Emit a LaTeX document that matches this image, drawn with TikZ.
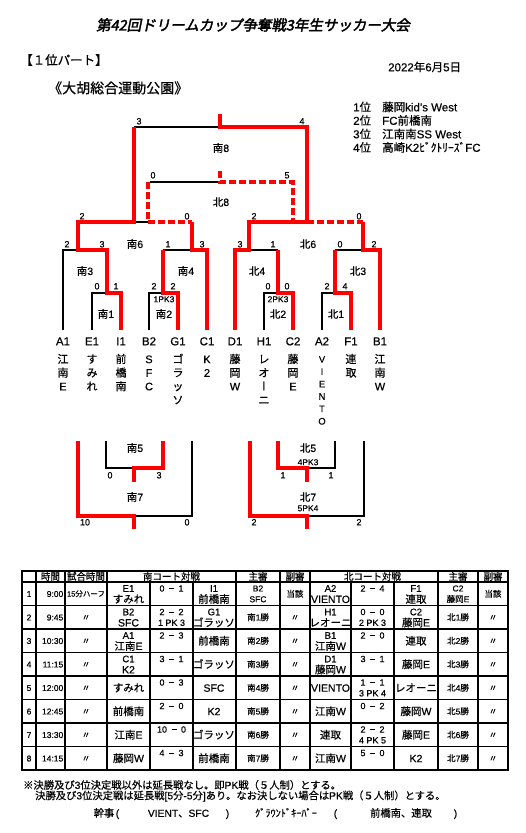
\documentclass[tikz,border=0pt]{standalone}
\usepackage{fontspec}
\setmainfont{Liberation Sans}[FakeBold=0.4]
\newfontfamily\cjkfont[FakeBold=0.5]{Noto Sans CJK JP}
\newfontfamily\vertfont[RawFeature=+vert,FakeBold=0.5]{Noto Sans CJK JP}
\newfontfamily\titlefont[FakeBold=2.5,FakeSlant=0.2]{Noto Sans CJK JP}
\XeTeXinterchartokenstate=1
\newXeTeXintercharclass\CJKcls
\newcount\cjkcnt
\cjkcnt="0021
\loop \XeTeXcharclass\cjkcnt=0 \advance\cjkcnt by 1 \ifnum\cjkcnt<"3000 \repeat
\cjkcnt="3000
\loop \XeTeXcharclass\cjkcnt=\CJKcls \advance\cjkcnt by 1 \ifnum\cjkcnt<"A000 \repeat
\cjkcnt="FF00
\loop \XeTeXcharclass\cjkcnt=\CJKcls \advance\cjkcnt by 1 \ifnum\cjkcnt<"FFF0 \repeat
\XeTeXcharclass"203B=\CJKcls
\XeTeXinterchartoks 0 \CJKcls = {\begingroup\cjkfont}
\XeTeXinterchartoks 4095 \CJKcls = {\begingroup\cjkfont}
\XeTeXinterchartoks \CJKcls 0 = {\endgroup}
\XeTeXinterchartoks \CJKcls 4095 = {\endgroup}

\newcommand\sco[2]{#1\hspace{4.5pt}\rule[2.7pt]{5pt}{0.8pt}\hspace{4.5pt}#2}
\newcommand\vname[5]{\foreach \vc [count=\i] in {#4} {\node[#5] (v#1\i) at (#2,{359+#3*(\i-1)}) {\vc};}}
\newcommand\tcl[5]{\node[tsm] (#1a) at (#2,#3+6.2) {#4}; \node[tnm] (#1b) at (#2,#3+17) {#5};}
\newcommand\tcj[5]{\node[tjs] (#1a) at (#2,#3+6.2) {#4}; \node[tjs] (#1b) at (#2,#3+17) {#5};}
\newcommand\tone[4]{\node[tnm] (#1) at (#2,#3+11.75) {#4};}
\newcommand\tj[4]{\node[tjs] (#1) at (#2,#3+11.75) {#4};}
\newcommand\tsr[4]{\node[tsc] (#1) at (#2,#3+6.2) {#4};}
\newcommand\tpk[4]{\node[tsc] (#1) at (#2,#3+17) {#4};}
\newcommand\rowbase[3]{\node[ttm] (no#1) at (29,#2+11.75) {#1};
  \node[ttm,anchor=east] (tm#1) at (63.5,#2+11.75) {#3};
  \node[tjs] (sb#1) at (295,#2+11.75) {〃};
  \node[tjs] (nb#1) at (493,#2+11.75) {〃};}

\begin{document}
\begin{tikzpicture}[x=1pt,y=-1pt,
  rl/.style={draw=red, line width=3.6pt},
  bl/.style={draw=black, line width=1.8pt},
  rd/.style={draw=red, line width=3.2pt, dash pattern=on 7pt off 3pt},
  tl/.style={draw=black, line width=1.8pt},
  tout/.style={draw=black, line width=2.6pt},
  scr/.style={font=\fontsize{9}{10}\selectfont, inner sep=0pt, text height=6.8pt, text depth=0pt},
  lab/.style={font=\fontsize{10.5}{12}\selectfont, inner sep=0pt, text height=7.9pt, text depth=0pt},
  pkl/.style={font=\fontsize{8.5}{10}\selectfont, inner sep=0pt, text height=6.4pt, text depth=0pt},
  tcode/.style={font=\fontsize{11.5}{13}\selectfont, inner sep=0pt, text height=8.6pt, text depth=0pt},
  vch/.style={font=\fontsize{11}{13}\selectfont, inner sep=0pt, text height=8.3pt, text depth=0pt},
  vchs/.style={font=\fontsize{9.5}{11}\selectfont, inner sep=0pt, text height=7.1pt, text depth=0pt},
  tsm/.style={font=\fontsize{9.5}{10}\selectfont, inner sep=0pt, text height=7.1pt, text depth=0pt},
  tnm/.style={font=\fontsize{10.5}{11}\selectfont, inner sep=0pt, text height=7.9pt, text depth=0pt},
  tjs/.style={font=\fontsize{8.5}{9}\selectfont, inner sep=0pt, text height=6.4pt, text depth=0pt},
  tsc/.style={font=\fontsize{9}{10}\selectfont, inner sep=0pt, text height=6.8pt, text depth=0pt},
  ttm/.style={font=\fontsize{8.5}{9}\selectfont, inner sep=0pt, text height=6.4pt, text depth=0pt},
  thd/.style={font=\fontsize{9.5}{10}\selectfont, inner sep=0pt, text height=7.1pt, text depth=0pt},
  rk/.style={font=\fontsize{11.5}{13}\selectfont, inner sep=0pt, text height=8.6pt, text depth=0pt},
  ft/.style={font=\fontsize{10.3}{11}\selectfont, inner sep=0pt, text height=7.7pt, text depth=0pt},
]
\fill[white] (0,0) rectangle (525,833);
\useasboundingbox (0,0) rectangle (525,833);

% ---------- headings ----------
\node[font=\fontsize{14.5}{16}\selectfont, inner sep=0pt, text height=10.9pt, text depth=0pt] (title) at (253,25)
  {\XeTeXinterchartokenstate=0 \titlefont 第42回ドリームカップ争奪戦3年生サッカー大会};
\node[font=\fontsize{12.5}{14}\selectfont, inner sep=0pt, text height=9.4pt, text depth=0pt, anchor=west] (part) at (20,60) {【１位パート】};
\node[rk, anchor=west] (date) at (388,67) {2022年6月5日};
\node[font=\fontsize{14}{16}\selectfont, inner sep=0pt, text height=10.5pt, text depth=0pt, anchor=west] (venue) at (48,88) {《大胡総合運動公園》};
\node[rk, anchor=west] (rk1) at (353,107) {1位};
\node[rk, anchor=west] (rk2) at (353,120.5) {2位};
\node[rk, anchor=west] (rk3) at (353,134) {3位};
\node[rk, anchor=west] (rk4) at (353,147.5) {4位};
\node[rk, anchor=west] (rn1) at (382,107) {藤岡kid's West};
\node[rk, anchor=west] (rn2) at (382,120.5) {FC前橋南};
\node[rk, anchor=west] (rn3) at (382,134) {江南南SS West};
\node[rk, anchor=west] (rn4) at (382,147.5) {高崎K2ﾋﾞｸﾄﾘｰｽﾞFC};

% ---------- upper bracket: black ----------
\draw[bl] (134,127) -- (220,127);
\draw[bl] (150,182) -- (220,182);
\draw[bl] (134,222) -- (148,222);
\draw[bl] (63,330) -- (63,250) -- (78,250);
\draw[bl] (92,330) -- (92,293) -- (107,293);
\draw[bl] (163,250) -- (192,250);
\draw[bl] (149,330) -- (149,293) -- (163,293);
\draw[bl] (249,250) -- (278,250);
\draw[bl] (264,330) -- (264,293) -- (278,293);
\draw[bl] (335,250) -- (363,250);
\draw[bl] (322,330) -- (322,293) -- (335,293);
% ---------- upper bracket: red ----------
\draw[rd] (220,171) -- (220,182) -- (293,182) -- (293,222);
\draw[rd] (148,182) -- (148,222) -- (192,222);
\draw[rd] (307,222) -- (363,222);
\draw[rl] (134,127) -- (134,222) -- (78,222) -- (78,250) -- (107,250) -- (107,293) -- (121,293) -- (121,330);
\draw[rl] (235,330) -- (235,250) -- (249,250) -- (249,222) -- (307,222) -- (307,127) -- (220,127) -- (220,114);
\draw[rl] (192,222) -- (192,250) -- (207,250) -- (207,330);
\draw[rl] (363,222) -- (363,250) -- (380,250) -- (380,330);
\draw[rl] (163,250) -- (163,293) -- (178,293) -- (178,330);
\draw[rl] (278,250) -- (278,293) -- (293,293) -- (293,330);
\draw[rl] (335,250) -- (335,293) -- (351,293) -- (351,330);

% ---------- lower bracket ----------
\draw[bl] (134,516) -- (192,516) -- (192,441);
\draw[bl] (106,441) -- (106,468) -- (134,468);
\draw[bl] (307,516) -- (364,516) -- (364,441);
\draw[bl] (307,468) -- (335,468) -- (335,441);
\draw[rl] (78,441) -- (78,516) -- (134,516) -- (134,529);
\draw[rl] (163,441) -- (163,468) -- (134,468) -- (134,482);
\draw[rl] (250,441) -- (250,516) -- (307,516) -- (307,529);
\draw[rl] (278,441) -- (278,468) -- (307,468) -- (307,482);

% ---------- bracket scores ----------
\node[scr] (s8a) at (139,121) {3};   \node[scr] (s8b) at (302,121) {4};
\node[scr] (n8a) at (153,175) {0};   \node[scr] (n8b) at (287,175) {5};
\node[scr] (s6a) at (82,216) {2};    \node[scr] (s6b) at (187,216) {0};
\node[scr] (n6a) at (254,216) {2};   \node[scr] (n6b) at (359,216) {0};
\node[scr] (s3a) at (67,244) {2};    \node[scr] (s3b) at (102,244) {3};
\node[scr] (s4a) at (168,244) {1};   \node[scr] (s4b) at (202,244) {3};
\node[scr] (n4a) at (240,244) {3};   \node[scr] (n4b) at (273,244) {1};
\node[scr] (n3a) at (340,244) {0};   \node[scr] (n3b) at (374,244) {2};
\node[scr] (s1a) at (97,286) {0};    \node[scr] (s1b) at (116,286) {1};
\node[scr] (s2a) at (154,286) {2};   \node[scr] (s2b) at (173,286) {2};
\node[scr] (n2a) at (268,286) {0};   \node[scr] (n2b) at (287,286) {0};
\node[scr] (n1a) at (327,286) {2};   \node[scr] (n1b) at (345,286) {4};
\node[scr] (s5a) at (110,475) {0};   \node[scr] (s5b) at (159,475) {3};
\node[scr] (s7a) at (85,522) {10};   \node[scr] (s7b) at (187,522) {0};
\node[scr] (n5a) at (283,475) {1};   \node[scr] (n5b) at (331,475) {1};
\node[scr] (n7a) at (254,522) {2};   \node[scr] (n7b) at (359,522) {2};

% ---------- bracket labels ----------
\node[lab] (L s8) at (221,148) {南8};
\node[lab] (L n8) at (221,202) {北8};
\node[lab] (L s6) at (135,244) {南6};
\node[lab] (L n6) at (308,244) {北6};
\node[lab] (L s3) at (85,271) {南3};
\node[lab] (L s4) at (186,271) {南4};
\node[lab] (L n4) at (257,271) {北4};
\node[lab] (L n3) at (358,271) {北3};
\node[lab] (L s1) at (106,314) {南1};
\node[lab] (L s2) at (164,314) {南2};
\node[lab] (L n2) at (278,314) {北2};
\node[lab] (L n1) at (336,314) {北1};
\node[pkl] (P s2) at (164,299) {1PK3};
\node[pkl] (P n2) at (278,299) {2PK3};
\node[lab] (L s5) at (135,448) {南5};
\node[lab] (L s7) at (135,497) {南7};
\node[lab] (L n5) at (308,448) {北5};
\node[pkl] (P n5) at (308,462) {4PK3};
\node[lab] (L n7) at (308,497) {北7};
\node[pkl] (P n7) at (308,508) {5PK4};

% ---------- teams ----------
\node[tcode] (cA1) at (63,341) {A1};
\node[tcode] (cE1) at (92,341) {E1};
\node[tcode] (cI1) at (121,341) {I1};
\node[tcode] (cB2) at (149,341) {B2};
\node[tcode] (cG1) at (178,341) {G1};
\node[tcode] (cC1) at (207,341) {C1};
\node[tcode] (cD1) at (235,341) {D1};
\node[tcode] (cH1) at (264,341) {H1};
\node[tcode] (cC2) at (293,341) {C2};
\node[tcode] (cA2) at (322,341) {A2};
\node[tcode] (cF1) at (351,341) {F1};
\node[tcode] (cB1) at (380,341) {B1};
\vname{a}{63}{13.6}{江,南,E}{vch}
\vname{b}{92}{13.6}{す,み,れ}{vch}
\vname{c}{121}{13.6}{前,橋,南}{vch}
\vname{d}{149}{13.6}{S,F,C}{vch}
\vname{e}{178}{13.6}{ゴ,ラ,ッ,ソ}{vch}
\vname{f}{207}{13.6}{K,2}{vch}
\vname{g}{235}{13.6}{藤,岡,W}{vch}
\vname{h}{264}{13.6}{レ,オ,{\XeTeXinterchartokenstate=0 \vertfont ー},ニ}{vch}
\vname{i}{293}{13.6}{藤,岡,E}{vch}
\vname{j}{322}{12.4}{V,I,E,N,T,O}{vchs}
\vname{k}{351}{13.6}{連,取}{vch}
\vname{l}{380}{13.6}{江,南,W}{vch}

% ---------- table grid ----------
\foreach \yy in {582,605.5,629,652.5,676,699.5,723,746.5} \draw[tl] (22,\yy) -- (508,\yy);
\foreach \xx in {36,65,107,236,280,310,438,478} \draw[tl] (\xx,571) -- (\xx,770);
\foreach \xx in {150,193,351,394} \draw[tl] (\xx,582) -- (\xx,770);
\draw[tout] (22,571) rectangle (508,770);

% header
\node[thd] (h1) at (50.5,576.5) {時間};
\node[thd] (h2) at (86,576.5) {試合時間};
\node[thd] (h3) at (171.5,576.5) {南コート対戦};
\node[thd] (h4) at (258,576.5) {主審};
\node[thd] (h5) at (295,576.5) {副審};
\node[thd] (h6) at (372.5,576.5) {北コート対戦};
\node[thd] (h7) at (458,576.5) {主審};
\node[thd] (h8) at (493,576.5) {副審};

% row 1
\node[ttm] (no1) at (29,593.75) {1};
\node[ttm,anchor=east] (tm1) at (63.5,593.75) {9:00};
\node[font=\fontsize{7.5}{8}\selectfont, inner sep=0pt, text height=5.6pt, text depth=0pt] (half) at (86,593.75) {15分ハーフ};
\tcl{r1a}{128.5}{582}{E1}{すみれ}
\tsr{r1s}{171.5}{582}{\sco01}
\tcl{r1b}{214}{582}{I1}{前橋南}
\tcj{r1c}{258}{582}{B2}{SFC}
\tj{r1d}{295}{582}{当該}
\tcl{r1e}{330.5}{582}{A2}{VIENTO}
\tsr{r1f}{372.5}{582}{\sco24}
\tcl{r1g}{416}{582}{F1}{連取}
\tcj{r1h}{458}{582}{C2}{藤岡E}
\tj{r1i}{493}{582}{当該}

% row 2
\rowbase{2}{605.5}{9:45}
\node[tjs] (g2) at (86,617.25) {〃};
\tcl{r2a}{128.5}{605.5}{B2}{SFC}
\tsr{r2s}{171.5}{605.5}{\sco22}
\tpk{r2p}{171.5}{605.5}{1 PK 3}
\tcl{r2b}{214}{605.5}{G1}{ゴラッソ}
\tj{r2c}{258}{605.5}{南1勝}
\tcl{r2e}{330.5}{605.5}{H1}{レオーニ}
\tsr{r2f}{372.5}{605.5}{\sco00}
\tpk{r2q}{372.5}{605.5}{2 PK 3}
\tcl{r2g}{416}{605.5}{C2}{藤岡E}
\tj{r2h}{458}{605.5}{北1勝}

% row 3
\rowbase{3}{629}{10:30}
\node[tjs] (g3) at (86,640.75) {〃};
\tcl{r3a}{128.5}{629}{A1}{江南E}
\tsr{r3s}{171.5}{629}{\sco23}
\tone{r3b}{214}{629}{前橋南}
\tj{r3c}{258}{629}{南2勝}
\tcl{r3e}{330.5}{629}{B1}{江南W}
\tsr{r3f}{372.5}{629}{\sco20}
\tone{r3g}{416}{629}{連取}
\tj{r3h}{458}{629}{北2勝}

% row 4
\rowbase{4}{652.5}{11:15}
\node[tjs] (g4) at (86,664.25) {〃};
\tcl{r4a}{128.5}{652.5}{C1}{K2}
\tsr{r4s}{171.5}{652.5}{\sco31}
\tone{r4b}{214}{652.5}{ゴラッソ}
\tj{r4c}{258}{652.5}{南3勝}
\tcl{r4e}{330.5}{652.5}{D1}{藤岡W}
\tsr{r4f}{372.5}{652.5}{\sco31}
\tone{r4g}{416}{652.5}{藤岡E}
\tj{r4h}{458}{652.5}{北3勝}

% row 5
\rowbase{5}{676}{12:00}
\node[tjs] (g5) at (86,687.75) {〃};
\tone{r5a}{128.5}{676}{すみれ}
\tsr{r5s}{171.5}{676}{\sco03}
\tone{r5b}{214}{676}{SFC}
\tj{r5c}{258}{676}{南4勝}
\tone{r5e}{330.5}{676}{VIENTO}
\tsr{r5f}{372.5}{676}{\sco11}
\tpk{r5q}{372.5}{676}{3 PK 4}
\tone{r5g}{416}{676}{レオーニ}
\tj{r5h}{458}{676}{北4勝}

% row 6
\rowbase{6}{699.5}{12:45}
\node[tjs] (g6) at (86,711.25) {〃};
\tone{r6a}{128.5}{699.5}{前橋南}
\tsr{r6s}{171.5}{699.5}{\sco20}
\tone{r6b}{214}{699.5}{K2}
\tj{r6c}{258}{699.5}{南5勝}
\tone{r6e}{330.5}{699.5}{江南W}
\tsr{r6f}{372.5}{699.5}{\sco02}
\tone{r6g}{416}{699.5}{藤岡W}
\tj{r6h}{458}{699.5}{北5勝}

% row 7
\rowbase{7}{723}{13:30}
\node[tjs] (g7) at (86,734.75) {〃};
\tone{r7a}{128.5}{723}{江南E}
\tsr{r7s}{171.5}{723}{\sco{10}{0}}
\tone{r7b}{214}{723}{ゴラッソ}
\tj{r7c}{258}{723}{南6勝}
\tone{r7e}{330.5}{723}{連取}
\tsr{r7f}{372.5}{723}{\sco22}
\tpk{r7q}{372.5}{723}{4 PK 5}
\tone{r7g}{416}{723}{藤岡E}
\tj{r7h}{458}{723}{北6勝}

% row 8
\rowbase{8}{746.5}{14:15}
\node[tjs] (g8) at (86,758.25) {〃};
\tone{r8a}{128.5}{746.5}{藤岡W}
\tsr{r8s}{171.5}{746.5}{\sco43}
\tone{r8b}{214}{746.5}{前橋南}
\tj{r8c}{258}{746.5}{南7勝}
\tone{r8e}{330.5}{746.5}{江南W}
\tsr{r8f}{372.5}{746.5}{\sco50}
\tone{r8g}{416}{746.5}{K2}
\tj{r8h}{458}{746.5}{北7勝}

% ---------- footer ----------
\node[ft, anchor=west] (fn1) at (23,785) {※決勝及び3位決定戦以外は延長戦なし。即PK戦（５人制）とする。};
\node[ft, anchor=west] (fn2) at (35,795.5) {決勝及び3位決定戦は延長戦[5分-5分]あり。なお決しない場合はPK戦（５人制）とする。};
\node[ft] (k1) at (104,813) {幹事};
\node[ft] (k2) at (117.5,813) {(};
\node[ft] (k3) at (178.5,813) {VIENT、SFC};
\node[ft] (k4) at (227.5,813) {)};
\node[ft] (k5) at (286,813) {ｸﾞﾗｳﾝﾄﾞｷｰﾊﾟｰ};
\node[ft] (k6) at (335.5,813) {(};
\node[ft] (k7) at (401,813) {前橋南、連取};
\node[ft] (k8) at (455.5,813) {)};
\end{tikzpicture}
\end{document}
